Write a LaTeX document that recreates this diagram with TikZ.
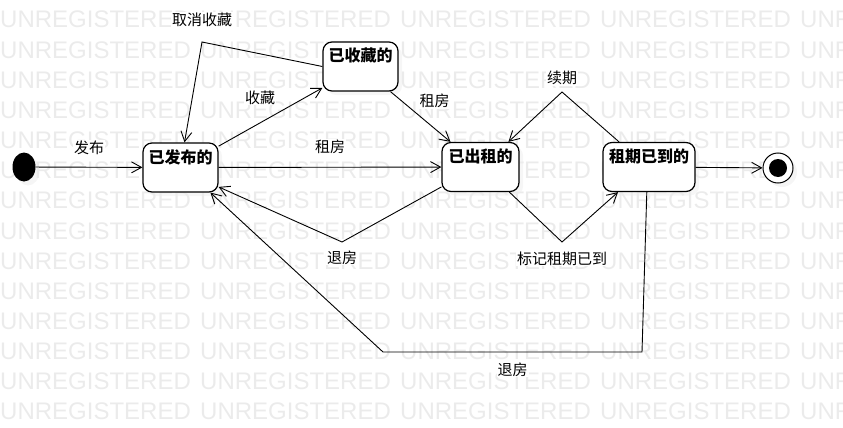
\documentclass[tikz,border=0pt]{standalone}
\usepackage{fontspec}
\setmainfont{Noto Sans CJK SC}
\newfontfamily\wmfont{Liberation Sans}
\usetikzlibrary{arrows.meta,shapes.geometric,shadows}

\begin{document}
\begin{tikzpicture}[x=1pt, y=-1pt,
    state/.style={draw, fill=white, line width=1.2pt, rounded corners=9pt,
      font=\fontsize{16}{18}\selectfont\bfseries,
      text height=14pt, text depth=23pt, inner ysep=6pt, inner xsep=2pt,
      drop shadow={shadow xshift=4pt, shadow yshift=-4pt, fill=black!7}},
    lbl/.style={font=\fontsize{15}{17}\selectfont, fill=white, inner sep=1pt},
    trans/.style={-{Straight Barb[length=10pt,width=11pt]}, line width=0.9pt},
    wm/.style={anchor=base west, inner sep=0pt, text=black!8,
      font=\wmfont\fontsize{24}{24}\selectfont}]
  \useasboundingbox (0,0) rectangle (843,428);
  % watermark rows
  \begin{scope}
    \clip (0,0) rectangle (843,428);
    \foreach \r in {0,...,13}
      \foreach \c in {0,...,4}
        \node[wm] (wm-\r-\c) at (200*\c, 28+30.15*\r) {UNREGISTERED};
  \end{scope}

  % states
  \node[ellipse, fill=black, minimum width=23pt, minimum height=29pt, inner sep=0pt,
    drop shadow={shadow xshift=4pt, shadow yshift=-4pt, fill=black!8}] (init) at (24,167) {};
  \node[state, minimum width=75pt] (pub) at (180.5,167.5) {已发布的};
  \node[state, minimum width=75pt] (fav) at (360.5,66.5) {已收藏的};
  \node[state, minimum width=77pt] (rent) at (480.5,167) {已出租的};
  \node[state, minimum width=92pt] (due) at (649,167) {租期已到的};
  \node[circle, draw, line width=1pt, fill=white, minimum size=30pt, inner sep=0pt,
    drop shadow={shadow xshift=4pt, shadow yshift=-4pt, fill=black!8}] (final) at (778,168) {};
  \node[circle, fill=black, minimum size=18pt, inner sep=0pt] (finaldot) at (final) {};

  % transitions
  \draw[trans] (init) -- node[lbl, above=11pt] (l-pub) {发布} (pub);
  \draw[trans] (pub) -- node[lbl, pos=0.4, above=17pt] (l-fav) {收藏} (fav);
  \draw[trans] (fav.west) -- (202,42) node[lbl, above=14pt] (l-unfav) {取消收藏}
    -- ([xshift=4pt]pub.north);
  \draw[trans] (pub) -- node[lbl, above=12pt] (l-rent1) {租房} (rent);
  \draw[trans] (fav) -- node[lbl, pos=0.18, right=17pt] (l-rent2) {租房} (rent);
  \draw[trans] (rent.207) -- (342,242) node[lbl, below=7pt] (l-out1) {退房} -- (pub.333);
  \draw[trans] (rent.-41) -- (562,242) node[lbl, below=8pt] (l-mark) {标记租期已到}
    -- (due.219);
  \draw[trans] (due.140) -- (562,92) node[lbl, above=6pt] (l-renew) {续期} -- (rent.42);
  \draw[trans] (due.265) -- (642,352) -- node[lbl, below=9pt] (l-out2) {退房} (383,352)
    -- (pub.320);
  \draw[trans] (due) -- (final);
\end{tikzpicture}
\end{document}
